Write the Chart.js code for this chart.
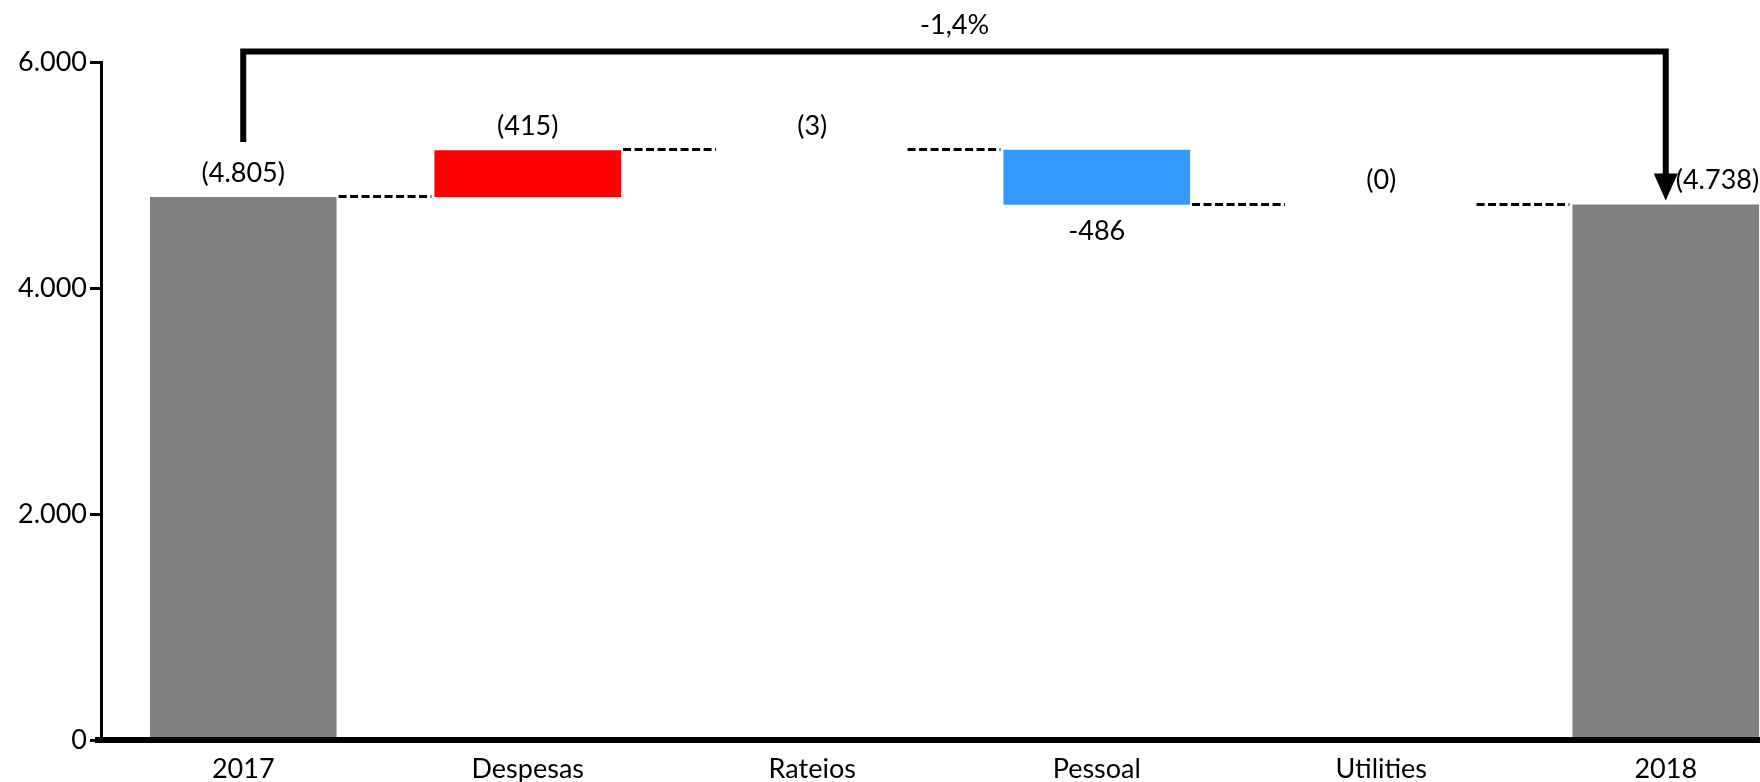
<!DOCTYPE html>
<html>
<head>
<meta charset="utf-8">
<script src="https://cdn.jsdelivr.net/npm/chart.js@4.4.1/dist/chart.umd.min.js"></script>
<style>
    html, body { margin: 0; padding: 0; overflow: hidden; background: #fff; width: 1760px; height: 782px; }
    canvas { display: block; }
</style>
</head>
<body>
<canvas id="waterfallChart" width="1808" height="782"></canvas>
<script>
// values
const categories = ['2017', 'Despesas', 'Rateios', 'Pessoal', 'Utilities', '2018'];
const startTotal = 4805;
const changes = [415, 3, -486, 0];
const endTotal = 4738;
const valueLabels = ['(4.805)', '(415)', '(3)', '-486', '(0)', '(4.738)'];
const barColors = ['#808080', '#FF0000', 'rgba(0,0,0,0)', '#3399FF', 'rgba(0,0,0,0)', '#808080'];
const yTicks = [0, 2000, 4000, 6000];
const variationLabel = '-1,4%';

// floating bars + running totals for the connectors
const ranges = [[0, startTotal]];
const runningTotals = [startTotal];
let total = startTotal;
changes.forEach(c => {
    ranges.push([total, total + c]);
    total += c;
    runningTotals.push(total);
});
ranges.push([0, endTotal]);
runningTotals.push(endTotal);

function formatThousands(v) {
    return String(v).replace(/\B(?=(\d{3})+(?!\d))/g, '.');
}

const waterfallExtras = {
    id: 'waterfallExtras',
    afterDatasetsDraw(chart) {
        const { ctx, chartArea } = chart;
        const y = chart.scales.y;
        const bars = chart.getDatasetMeta(0).data;
        ctx.save();

        // dashed connectors between bars
        ctx.strokeStyle = '#000';
        ctx.lineWidth = 3;
        ctx.setLineDash([8, 3.5]);
        for (let i = 0; i < bars.length - 1; i++) {
            const a = bars[i], b = bars[i + 1];
            const py = Math.round(y.getPixelForValue(runningTotals[i])) - 0.5;
            ctx.beginPath();
            ctx.moveTo(a.x + a.width / 2 + 2, py);
            ctx.lineTo(b.x - b.width / 2 - 3, py);
            ctx.stroke();
        }
        ctx.setLineDash([]);

        // thick x axis line running to the edge
        ctx.lineWidth = 6;
        ctx.beginPath();
        ctx.moveTo(chartArea.left - 6, chartArea.bottom);
        ctx.lineTo(chart.width, chartArea.bottom);
        ctx.stroke();

        // value labels
        ctx.fillStyle = '#000';
        ctx.font = '27px Lato';
        ctx.textBaseline = 'middle';
        bars.forEach((bar, i) => {
            const top = Math.min(bar.y, bar.base);
            const bottom = Math.max(bar.y, bar.base);
            const last = i === bars.length - 1;
            const down = i > 0 && !last && changes[i - 1] < 0;
            ctx.textAlign = last ? 'left' : 'center';
            const tx = last ? bar.x + 10 : bar.x;
            const ty = down ? bottom + 27 : top - 24;
            ctx.fillText(valueLabels[i], tx, ty);
        });

        // bracket with arrow 2017 -> 2018
        const first = bars[0], final = bars[bars.length - 1];
        const topY = chartArea.top - 10.5;
        const tipY = Math.min(final.y, final.base) - 4;
        ctx.lineWidth = 6;
        ctx.lineJoin = 'miter';
        ctx.beginPath();
        ctx.moveTo(first.x, Math.min(first.y, first.base) - 55);
        ctx.lineTo(first.x, topY);
        ctx.lineTo(final.x, topY);
        ctx.lineTo(final.x, tipY - 24);
        ctx.stroke();
        ctx.beginPath();
        ctx.moveTo(final.x - 12, tipY - 27);
        ctx.lineTo(final.x + 12, tipY - 27);
        ctx.lineTo(final.x, tipY);
        ctx.closePath();
        ctx.fill();

        ctx.textAlign = 'center';
        ctx.fillText(variationLabel, (first.x + final.x) / 2, 25);
        ctx.restore();
    }
};

Chart.defaults.font.family = 'Lato';
Chart.defaults.font.size = 27;
Chart.defaults.color = '#000';

const ctx = document.getElementById('waterfallChart').getContext('2d');
new Chart(ctx, {
    type: 'bar',
    data: {
        labels: categories,
        datasets: [{
            data: ranges,
            backgroundColor: barColors,
            borderWidth: 0,
            categoryPercentage: 1,
            barPercentage: 0.656
        }]
    },
    options: {
        responsive: false,
        animation: false,
        layout: {
            padding: { top: 62, right: 0, bottom: 0, left: 0 }
        },
        plugins: {
            legend: { display: false },
            title: { display: false },
            tooltip: { enabled: false }
        },
        scales: {
            x: {
                grid: { display: false, drawTicks: false },
                border: { display: false },
                ticks: { padding: 13, color: '#000' },
                afterFit: function (scale) { scale.height = 42; }
            },
            y: {
                min: 0,
                max: 6000,
                afterBuildTicks: function (scale) {
                    scale.ticks = yTicks.map(v => ({ value: v }));
                },
                afterFit: function (scale) { scale.width = 101; },
                grid: {
                    drawOnChartArea: false,
                    drawTicks: true,
                    tickLength: 11,
                    tickWidth: 3,
                    color: '#000'
                },
                border: { color: '#000', width: 3 },
                ticks: {
                    padding: 3,
                    color: '#000',
                    callback: function (value) { return formatThousands(value); }
                }
            }
        }
    },
    plugins: [waterfallExtras]
});
</script>
</body>
</html>
